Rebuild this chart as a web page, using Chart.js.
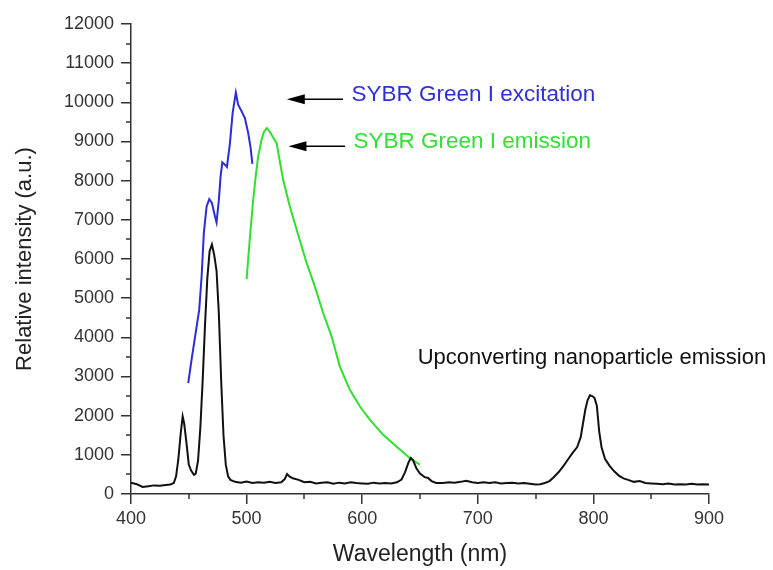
<!DOCTYPE html>
<html>
<head>
<meta charset="utf-8">
<script src="https://cdn.jsdelivr.net/npm/chart.js@4.4.1/dist/chart.umd.min.js"></script>
<style>
  html, body { margin: 0; padding: 0; background: #fff; }
  #wrap { width: 773px; height: 570px; }
</style>
</head>
<body>
<div id="wrap"><canvas id="myChart"></canvas></div>
<script>
// upconverting nanoparticle emission (black)
var ucnpX = [400, 405, 410, 415, 420, 425, 430, 434, 437, 439, 441, 443, 444.7, 446, 448, 450, 452, 454.5, 456, 458, 460, 462, 464, 466, 468, 470, 472, 474, 476, 478, 480, 482, 484, 486, 490, 495, 500, 505, 510, 515, 520, 525, 530, 533, 535, 537, 540, 545, 550, 555, 560, 565, 570, 575, 580, 585, 590, 595, 600, 605, 610, 615, 620, 625, 630, 634, 637, 640, 642, 644, 647, 650, 654, 657, 660, 664, 670, 675, 680, 685, 690, 695, 700, 705, 710, 715, 720, 725, 730, 735, 740, 745, 750, 754, 758, 762, 765, 770, 774, 778, 782, 786, 789, 791, 793, 795, 797, 799, 801, 803, 805, 807, 810, 814, 818, 822, 826, 830, 835, 840, 845, 850, 855, 860, 865, 870, 875, 880, 885, 890, 895, 900];
var ucnpY = [290, 250, 180, 200, 220, 210, 230, 240, 280, 450, 900, 1550, 1980, 1800, 1300, 750, 600, 490, 520, 850, 1700, 2900, 4300, 5500, 6200, 6370, 6100, 5700, 4600, 2900, 1500, 750, 450, 360, 310, 290, 320, 280, 300, 290, 310, 280, 300, 380, 510, 450, 400, 360, 300, 310, 270, 290, 300, 260, 290, 270, 300, 280, 270, 260, 290, 270, 280, 270, 300, 370, 550, 800, 920, 860, 650, 520, 430, 410, 330, 280, 280, 300, 290, 310, 340, 300, 280, 300, 280, 300, 270, 280, 290, 270, 280, 260, 240, 250, 280, 330, 410, 560, 710, 880, 1050, 1200, 1450, 1800, 2150, 2400, 2520, 2500, 2450, 2250, 1600, 1200, 900, 720, 580, 470, 400, 360, 310, 330, 280, 270, 260, 250, 270, 240, 250, 240, 260, 240, 250, 240];

// SYBR Green I excitation (blue)
var excX = [449.5, 452.4, 456.8, 459, 461.1, 463, 465.4, 467.7, 470, 472.6, 474, 476, 477.5, 479, 481.2, 483, 485.6, 487.9, 490.7, 492.7, 495.7, 498.5, 501.4, 503.5, 505];
var excY = [2830, 3430, 4280, 4700, 5560, 6660, 7340, 7530, 7430, 7090, 6935, 7510, 8110, 8470, 8410, 8350, 8960, 9725, 10250, 9940, 9770, 9600, 9215, 8830, 8430];

// SYBR Green I emission (green)
var emX = [500, 503, 505.7, 508, 510, 513, 515, 517.5, 520, 523, 526, 531.6, 537.4, 544.6, 551.9, 559, 566.2, 573.5, 580.6, 589.3, 597.9, 606.6, 618.1, 629.6, 641.1, 649.8];
var emY = [5490, 6600, 7510, 8150, 8620, 9050, 9250, 9340, 9250, 9100, 8950, 8025, 7340, 6620, 5900, 5300, 4620, 4025, 3260, 2660, 2240, 1900, 1510, 1215, 920, 750];

var xTicks = [400, 500, 600, 700, 800, 900];
var yTicks = [0, 1000, 2000, 3000, 4000, 5000, 6000, 7000, 8000, 9000, 10000, 11000, 12000];

function pts(xs, ys) {
    var out = [];
    for (let i = 0; i < xs.length; i += 1) out.push({x: xs[i], y: ys[i]});
    return out;
}

var FONT = "'Liberation Sans', Arial, sans-serif";

// minor ticks, arrows and the three labels
var extras = {
    id: "extras",
    afterDraw: function(chart) {
        var ctx = chart.ctx;
        var xs = chart.scales.x, ys = chart.scales.y;
        var area = chart.chartArea;
        ctx.save();
        ctx.strokeStyle = "#333";
        ctx.lineWidth = 1.5;
        ctx.beginPath();
        for (let v = 500; v < 12000; v += 1000) {
            var py = Math.round(ys.getPixelForValue(v));
            ctx.moveTo(area.left, py);
            ctx.lineTo(area.left - 5, py);
        }
        for (let v = 450; v < 900; v += 100) {
            var px = Math.round(xs.getPixelForValue(v));
            ctx.moveTo(px, area.bottom);
            ctx.lineTo(px, area.bottom + 5);
        }
        ctx.stroke();

        function arrow(x1, x2, y) {
            var tx = xs.getPixelForValue(x1), ex = xs.getPixelForValue(x2), py = ys.getPixelForValue(y);
            ctx.strokeStyle = "#000";
            ctx.fillStyle = "#000";
            ctx.lineWidth = 1.5;
            ctx.beginPath();
            ctx.moveTo(tx + 16, py);
            ctx.lineTo(ex, py);
            ctx.stroke();
            ctx.beginPath();
            ctx.moveTo(tx, py);
            ctx.lineTo(tx + 18, py - 5);
            ctx.lineTo(tx + 18, py + 5);
            ctx.closePath();
            ctx.fill();
        }
        arrow(534.8, 583.4, 10080);
        arrow(536.2, 585.2, 8880);

        ctx.font = "22.5px " + FONT;
        ctx.textBaseline = "middle";
        ctx.textAlign = "left";
        ctx.fillStyle = "#2f2fd6";
        ctx.fillText("SYBR Green I excitation", xs.getPixelForValue(590.7), ys.getPixelForValue(10190));
        ctx.fillStyle = "#33e033";
        ctx.fillText("SYBR Green I emission", xs.getPixelForValue(592.5), ys.getPixelForValue(8980));
        ctx.font = "22px " + FONT;
        ctx.fillStyle = "#111";
        ctx.fillText("Upconverting nanoparticle emission", xs.getPixelForValue(648), ys.getPixelForValue(3480));
        ctx.restore();
    }
};

var myChart = document.getElementById("myChart").getContext("2d");
var chart = new Chart(myChart, {
    type: "line",
    data: {
        datasets: [
            {
                label: "Upconverting nanoparticle emission",
                data: pts(ucnpX, ucnpY),
                borderColor: "#111",
                borderWidth: 2
            },
            {
                label: "SYBR Green I excitation",
                data: pts(excX, excY),
                borderColor: "#2b2bd9",
                borderWidth: 2
            },
            {
                label: "SYBR Green I emission",
                data: pts(emX, emY),
                borderColor: "#2fe02f",
                borderWidth: 2
            }
        ]
    },
    options: {
        responsive: true,
        maintainAspectRatio: false,
        animation: false,
        elements: { point: { radius: 0 }, line: { tension: 0, fill: false } },
        layout: { padding: { left: 0, right: 64, top: 24, bottom: 2 } },
        plugins: { legend: { display: false }, tooltip: { enabled: false } },
        scales: {
            x: {
                type: "linear",
                min: 400,
                max: 900,
                afterBuildTicks: function(scale) { scale.ticks = xTicks.map(function(v) { return {value: v}; }); },
                afterFit: function(scale) { scale.height = 74; },
                border: { display: true, color: "#333", width: 1.5 },
                grid: { drawOnChartArea: false, drawTicks: true, tickLength: 10, color: "#333", lineWidth: 1.5 },
                ticks: { color: "#333", font: { family: FONT, size: 18 }, padding: 4, maxRotation: 0,
                         callback: function(value) { return String(value); } },
                title: { display: true, text: "Wavelength (nm)", color: "#222", font: { family: FONT, size: 23 }, padding: { top: 0, bottom: 0 } }
            },
            y: {
                min: 0,
                max: 12000,
                afterBuildTicks: function(scale) { scale.ticks = yTicks.map(function(v) { return {value: v}; }); },
                afterFit: function(scale) { scale.width = 131; },
                border: { display: true, color: "#333", width: 1.5 },
                grid: { drawOnChartArea: false, drawTicks: true, tickLength: 10, color: "#333", lineWidth: 1.5 },
                ticks: { color: "#333", font: { family: FONT, size: 18 }, padding: 7,
                         callback: function(value) { return String(value); } },
                title: { display: true, text: "Relative intensity (a.u.)", color: "#222", font: { family: FONT, size: 22 }, padding: { top: 12, bottom: 0 } }
            }
        }
    },
    plugins: [extras]
});
</script>
</body>
</html>
